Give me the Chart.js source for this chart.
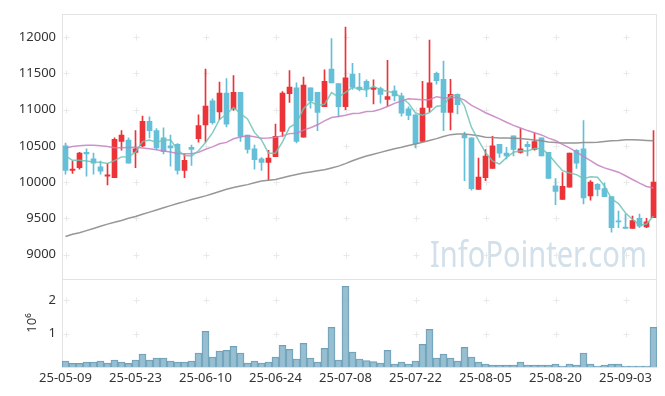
<!DOCTYPE html>
<html>
<head>
<meta charset="utf-8">
<script src="https://cdn.jsdelivr.net/npm/chart.js@4.4.1/dist/chart.umd.min.js"></script>
<style>
    html, body { margin: 0; padding: 0; background: #fff; }
    #wrap { width: 665px; height: 396px; }
</style>
</head>
<body>
<div id="wrap"><canvas id="chartStock" width="665" height="396"></canvas></div>
<script>
const dates = [
    '25-05-09','25-05-12','25-05-13','25-05-14','25-05-15','25-05-16','25-05-19','25-05-20','25-05-21','25-05-22',
    '25-05-23','25-05-26','25-05-27','25-05-28','25-05-29','25-05-30','25-06-02','25-06-04','25-06-05','25-06-09',
    '25-06-10','25-06-11','25-06-12','25-06-13','25-06-16','25-06-17','25-06-18','25-06-19','25-06-20','25-06-23',
    '25-06-24','25-06-25','25-06-26','25-06-27','25-06-30','25-07-01','25-07-02','25-07-03','25-07-04','25-07-07',
    '25-07-08','25-07-09','25-07-10','25-07-11','25-07-14','25-07-15','25-07-16','25-07-17','25-07-18','25-07-21',
    '25-07-22','25-07-23','25-07-24','25-07-25','25-07-28','25-07-29','25-07-30','25-07-31','25-08-01','25-08-04',
    '25-08-05','25-08-06','25-08-07','25-08-08','25-08-11','25-08-12','25-08-13','25-08-14','25-08-18','25-08-19',
    '25-08-20','25-08-21','25-08-22','25-08-25','25-08-26','25-08-27','25-08-28','25-08-29','25-09-01','25-09-02',
    '25-09-03','25-09-04','25-09-05','25-09-08','25-09-09'
]

const opens = [
    10500,10160,10200,10410,10320,10210,10080,10060,10560,10580,
    10410,10500,10840,10710,10610,10500,10520,10160,10480,10600,
    10790,11120,10970,11230,11010,11240,10650,10460,10320,10270,
    10350,10700,11220,11300,10620,11300,11240,11040,11560,11360,
    11040,11490,11310,11390,11280,11290,11140,11260,11190,11010,
    10930,10560,11030,11500,11420,10960,11210,10650,10610,9900,
    10060,10190,10520,10400,10640,10410,10520,10450,10610,10410,
    9950,9760,9930,10440,10460,9810,9970,9910,9800,9460,
    9380,9360,9500,9380,9510
]
const highs = [
    10540,10290,10410,10460,10400,10290,10260,10610,10710,10610,
    10710,10910,10900,10740,10750,10650,10530,10390,10510,10930,
    11560,11150,11380,11430,11470,11240,10650,10510,10340,10440,
    10800,11250,11540,11370,11450,11300,11240,11550,11980,11360,
    12140,11640,11500,11410,11410,11310,11680,11330,11230,11040,
    10930,11390,11960,11520,11670,11420,11220,10690,10610,10330,
    10450,10630,10520,10480,10640,10740,10560,10680,10610,10410,
    10050,10130,10400,10450,10850,10020,9980,9990,9800,9600,
    9560,9530,9560,9500,10710
]
const lows = [
    10110,10120,10180,10080,10110,10110,9960,10060,10440,10260,
    10200,10490,10610,10450,10390,10220,10110,10060,10230,10550,
    10550,10800,10860,10760,10990,10560,10400,10180,10160,10030,
    10350,10630,11100,10540,10620,11020,10710,11040,11370,10900,
    11000,11280,11260,11180,11080,11090,11050,11120,10910,10860,
    10470,10560,10970,11350,10710,10720,10940,10020,9890,9900,
    10020,10190,10340,10320,10360,10400,10360,10440,10360,10050,
    9690,9760,9930,10190,9700,9750,9810,9800,9310,9370,
    9360,9360,9370,9370,9510
]
const closes = [
    10160,10180,10400,10390,10260,10150,10100,10590,10650,10260,
    10460,10840,10710,10470,10420,10470,10160,10300,10450,10780,
    11050,10820,11230,10800,11240,10630,10450,10310,10270,10330,
    10630,11230,11310,10560,11340,11120,10960,11390,11370,11040,
    11440,11310,11280,11290,11300,11210,11180,11190,10950,10920,
    10530,11020,11370,11400,10960,11210,11070,10610,9910,10070,
    10360,10500,10400,10360,10450,10460,10490,10560,10360,10050,
    9870,9940,10400,10260,9780,10000,9900,9800,9370,9450,
    9360,9470,9390,9450,10000
]

const ma5 = [
    10360,10300,10300,10290,10277,10275,10258,10297,10348,10350,
    10412,10559,10582,10547,10579,10583,10447,10367,10361,10432,
    10547,10680,10865,10936,11029,10946,10871,10686,10581,10399,
    10398,10555,10756,10812,11013,11111,11057,11073,11235,11175,
    11239,11308,11285,11270,11323,11277,11251,11233,11164,11089,
    10953,10922,10958,11048,11056,11192,11202,11051,10754,10576,
    10407,10291,10248,10338,10413,10432,10430,10463,10463,10384,
    10267,10157,10125,10103,10048,10075,10067,9947,9770,9704,
    9574,9487,9405,9421,9533
]
const ma20 = [
    10470,10490,10500,10510,10510,10500,10490,10475,10475,10478,
    10480,10470,10460,10445,10430,10415,10395,10390,10392,10410,
    10454,10486,10528,10548,10598,10622,10639,10625,10606,10610,
    10618,10638,10669,10673,10718,10751,10791,10845,10891,10904,
    10923,10948,10950,10975,10978,11006,11043,11087,11120,11150,
    11145,11135,11137,11179,11161,11165,11171,11132,11059,11011,
    10957,10916,10873,10826,10783,10746,10711,10680,10651,10607,
    10574,10520,10472,10414,10355,10295,10236,10196,10168,10137,
    10087,10036,9985,9939,9917
]
const ma60 = [
    9250,9280,9300,9330,9360,9390,9420,9445,9470,9500,
    9525,9555,9585,9615,9645,9675,9705,9730,9760,9785,
    9810,9840,9870,9900,9925,9945,9965,9990,10015,10025,
    10035,10060,10085,10105,10125,10140,10155,10170,10195,10220,
    10255,10295,10330,10360,10385,10410,10435,10460,10480,10505,
    10525,10550,10575,10600,10630,10655,10665,10665,10655,10640,
    10620,10615,10610,10610,10605,10600,10590,10580,10570,10555,
    10545,10540,10540,10540,10545,10545,10550,10560,10570,10575,
    10585,10585,10580,10575,10570
]

const volumes = [
    180000,110000,110000,150000,150000,180000,120000,210000,150000,110000,
    210000,390000,210000,270000,270000,180000,150000,150000,180000,420000,
    1070000,300000,480000,500000,620000,420000,120000,180000,120000,150000,
    300000,650000,530000,240000,710000,270000,150000,560000,1190000,210000,
    2420000,450000,240000,190000,160000,120000,500000,90000,150000,90000,
    180000,680000,1130000,270000,390000,270000,180000,590000,300000,150000,
    90000,60000,60000,60000,60000,150000,60000,60000,60000,60000,
    90000,30000,90000,60000,420000,90000,30000,60000,90000,90000,
    30000,30000,30000,30000,1190000
]

const xTickLabels = ['25-05-09','25-05-23','25-06-10','25-06-24','25-07-08','25-07-22','25-08-05','25-08-20','25-09-03']
const priceTicks = [9000, 9500, 10000, 10500, 11000, 11500, 12000]
const volumeTicks = [1000000, 2000000]

const upColor = '#ec3338'
const downColor = '#66bfd9'
const fontLabel = { family: "'Noto Sans', sans-serif", size: 13 }
const candleColors = closes.map((c, i) => c >= opens[i] ? upColor : downColor)

// little "+" marks where the ticks cross, plus the panel frames and the watermark
const panelPlugin = {
    id: 'panelPlugin',
    beforeDatasetsDraw(chart){
        const { ctx, chartArea, scales } = chart
        ctx.save()

        ctx.font = "37px 'Noto Sans', sans-serif"
        const text = 'InfoPointer.com'
        const w = ctx.measureText(text).width
        ctx.translate(430, 267)
        ctx.scale(217 / w, 1)
        ctx.fillStyle = '#d1e0ea'
        ctx.fillText(text, 0, 0)
        ctx.setTransform(1, 0, 0, 1, 0, 0)

        ctx.lineWidth = 1
        const xs = scales.x.ticks.map(t => Math.round(scales.x.getPixelForValue(t.value)) + 0.5)
        ;['y', 'yv'].forEach(id => {
            const s = scales[id]
            ctx.strokeStyle = '#e9e9e9'
            s.ticks.forEach(t => {
                const py = Math.round(s.getPixelForValue(t.value)) + 0.5
                xs.forEach(px => {
                    ctx.beginPath()
                    ctx.moveTo(px - 3, py)
                    ctx.lineTo(px + 3, py)
                    ctx.moveTo(px, py - 3)
                    ctx.lineTo(px, py + 3)
                    ctx.stroke()
                })
            })
            ctx.strokeStyle = '#e3e3e3'
            ctx.strokeRect(Math.round(chartArea.left) + 0.5, Math.round(s.top) + 0.5,
                Math.round(chartArea.right - chartArea.left) - 1, Math.round(s.bottom - s.top))
        })
        ctx.restore()
    }
}

const ctx1 = document.querySelector('#chartStock').getContext('2d')

new Chart(ctx1, {
    data: {
        labels: dates,
        datasets: [
            {
                type: 'line', label: 'MA5', data: ma5, yAxisID: 'y', order: 0,
                borderColor: 'rgba(110,195,182,0.85)', borderWidth: 1.5, pointRadius: 0
            },
            {
                type: 'line', label: 'MA20', data: ma20, yAxisID: 'y', order: 0,
                borderColor: 'rgba(196,128,192,0.85)', borderWidth: 1.5, pointRadius: 0
            },
            {
                type: 'line', label: 'MA60', data: ma60, yAxisID: 'y', order: 0,
                borderColor: 'rgba(140,140,140,0.9)', borderWidth: 1.5, pointRadius: 0
            },
            {
                type: 'bar', label: 'body', yAxisID: 'y', order: 1, grouped: false,
                data: opens.map((o, i) => [o, closes[i]]),
                backgroundColor: candleColors, barThickness: 5, minBarLength: 1
            },
            {
                type: 'bar', label: 'wick', yAxisID: 'y', order: 2, grouped: false,
                data: lows.map((l, i) => [l, highs[i]]),
                backgroundColor: candleColors, barThickness: 1
            },
            {
                type: 'bar', label: 'volume', yAxisID: 'yv', order: 3, grouped: false,
                data: volumes,
                backgroundColor: 'rgba(140,184,204,0.9)', borderColor: 'rgba(95,150,175,0.9)', borderWidth: 1,
                barPercentage: 1, categoryPercentage: 1
            }
        ]
    },
    options: {
        responsive: false,
        animation: false,
        devicePixelRatio: 1,
        layout: { padding: { top: 10, right: 8, left: 0, bottom: 0 } },
        plugins: {
            legend: { display: false },
            tooltip: { enabled: false }
        },
        scales: {
            x: {
                type: 'category',
                offset: true,
                grid: { display: false, drawTicks: false },
                border: { display: false },
                afterBuildTicks: s => { s.ticks = xTickLabels.map(l => ({ value: dates.indexOf(l) })) },
                afterFit: s => { s.height = 29 },
                ticks: { autoSkip: false, maxRotation: 0, padding: 3, color: '#333', font: fontLabel }
            },
            y: {
                type: 'linear',
                position: 'left',
                stack: 'panels',
                stackWeight: 268,
                weight: 2,
                min: 8663,
                max: 12323,
                grid: { display: false, drawTicks: false },
                border: { display: false },
                afterBuildTicks: s => { s.ticks = priceTicks.map(v => ({ value: v })) },
                afterFit: s => { s.width = 62 },
                ticks: { padding: 6, color: '#333', font: fontLabel, callback: v => String(v) }
            },
            yv: {
                type: 'linear',
                position: 'left',
                stack: 'panels',
                stackWeight: 89,
                weight: 1,
                min: 0,
                max: 2640000,
                grid: { display: false, drawTicks: false },
                border: { display: false },
                afterBuildTicks: s => { s.ticks = volumeTicks.map(v => ({ value: v })) },
                afterFit: s => { s.width = 62 },
                ticks: { padding: 6, color: '#333', font: fontLabel, callback: v => String(v / 1000000) },
                title: { display: true, text: '10⁶', color: '#333', font: fontLabel, padding: { top: 24, bottom: 0 } }
            }
        }
    },
    plugins: [panelPlugin]
})
</script>
</body>
</html>
